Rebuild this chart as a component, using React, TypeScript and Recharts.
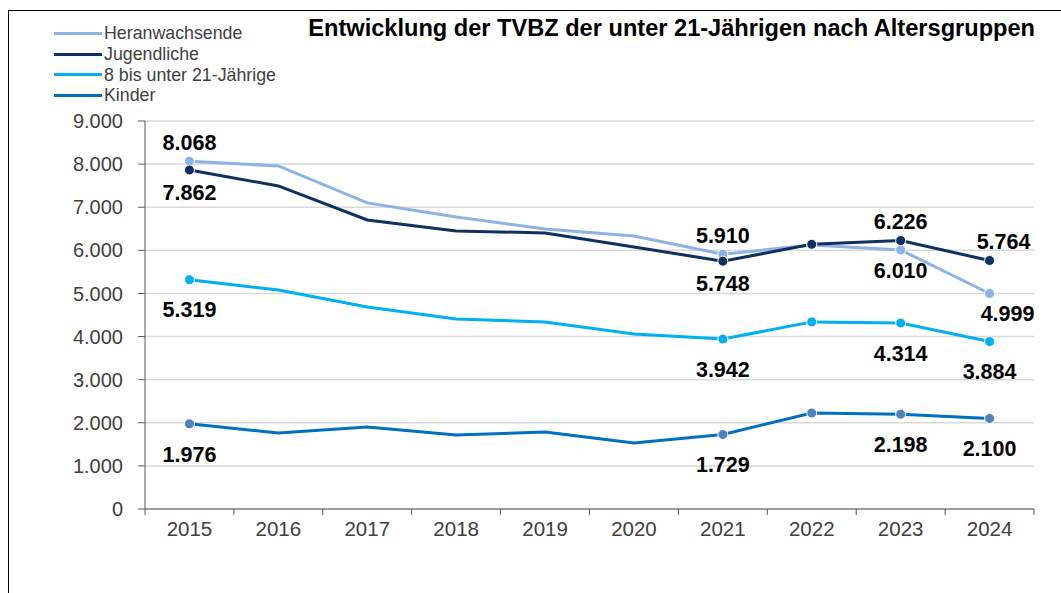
import React from 'react';
import { LineChart, Line, XAxis, YAxis, CartesianGrid } from 'recharts';

const years = ['2015', '2016', '2017', '2018', '2019', '2020', '2021', '2022', '2023', '2024'];
const heranwachsende = [8068, 7958, 7100, 6775, 6497, 6334, 5910, 6125, 6010, 4999];
const jugendliche = [7862, 7494, 6705, 6450, 6403, 6078, 5748, 6140, 6226, 5764];
const achtBis21 = [5319, 5080, 4686, 4408, 4338, 4060, 3942, 4340, 4314, 3884];
const kinder = [1976, 1763, 1902, 1717, 1786, 1531, 1729, 2227, 2198, 2100];
const yTicks = [0, 1000, 2000, 3000, 4000, 5000, 6000, 7000, 8000, 9000];

const title = 'Entwicklung der TVBZ der unter 21-Jährigen nach Altersgruppen';

// which years get a marker
const dotIndexes = [0, 6, 7, 8, 9];

// label placement per series: index -> 'up' | 'down'
const labelSpec: Record<string, Record<number, string>> = {
  her: { 0: 'up', 6: 'up', 8: 'down', 9: 'down' },
  jug: { 0: 'down', 6: 'down', 8: 'up', 9: 'up' },
  acht: { 0: 'down', 6: 'down', 8: 'down', 9: 'down' },
  kin: { 0: 'down', 6: 'down', 8: 'down', 9: 'down' },
};

const data = years.map((y, i) => ({
  year: y,
  her: heranwachsende[i],
  jug: jugendliche[i],
  acht: achtBis21[i],
  kin: kinder[i],
}));

const series = [
  { key: 'her', name: 'Heranwachsende', color: '#8DB3E2', dot: '#8DB3E2', down: 20 },
  { key: 'jug', name: 'Jugendliche', color: '#10305F', dot: '#10305F', down: 22 },
  { key: 'acht', name: '8 bis unter 21-Jährige', color: '#00B0F0', dot: '#00B0F0', down: 30 },
  { key: 'kin', name: 'Kinder', color: '#0070C0', dot: '#4F81BD', down: 30 },
];

const fmt = (v: number) => String(v).replace(/\B(?=(\d{3})+(?!\d))/g, '.');

const makeDot = (color: string) => (props: any) => {
  const { cx, cy, index } = props;
  if (!dotIndexes.includes(index)) return <g key={index} />;
  return <circle key={index} cx={cx} cy={cy} r={5} fill={color} stroke="#fff" strokeWidth={1} />;
};

const makeLabel = (key: string, down: number) => (props: any) => {
  const { x, y, index, value } = props;
  const pos = labelSpec[key][index];
  if (!pos) return null;
  const dx = index === 9 && pos === 'up' ? 14 : index === 9 && key === 'her' ? 18 : 0;
  const ty = pos === 'up' ? y - 19 : y + down;
  return (
    <text
      key={index}
      x={x + dx}
      y={ty}
      dy="0.36em"
      textAnchor="middle"
      fontSize={21.5}
      fontWeight="bold"
      fill="#000"
    >
      {fmt(value)}
    </text>
  );
};

const XTick = (props: any) => {
  const { x, y, payload, index } = props;
  const half = 44.45;
  return (
    <g>
      <line x1={x - half} y1={y} x2={x - half} y2={y + 6} stroke="#595959" />
      {index === years.length - 1 && (
        <line x1={x + half} y1={y} x2={x + half} y2={y + 6} stroke="#595959" />
      )}
      <text x={x} y={y + 20} dy="0.36em" textAnchor="middle" fontSize={20.5} fill="#404040">
        {payload.value}
      </text>
    </g>
  );
};

const LegendBox = () => (
  <div
    style={{
      position: 'absolute',
      left: 54,
      top: 23,
      fontSize: 17.8,
      color: '#404040',
    }}
  >
    {series.map((s) => (
      <div key={s.key} style={{ display: 'flex', alignItems: 'center', height: 20.8 }}>
        <div style={{ width: 48, height: 3, background: s.color, marginRight: 2 }} />
        <span>{s.name}</span>
      </div>
    ))}
  </div>
);

export default function App() {
  return (
    <div
      style={{
        position: 'absolute',
        left: 0,
        top: 0,
        width: 1061,
        height: 593,
        overflow: 'hidden',
        background: '#fff',
        fontFamily: 'Arial, "Liberation Sans", sans-serif',
      }}
    >
      <div
        style={{
          position: 'absolute',
          left: 8,
          top: 10,
          width: 1200,
          height: 800,
          border: '1px solid #000',
        }}
      />
      <LineChart
        width={1061}
        height={593}
        data={data}
        margin={{ top: 121, right: 27, left: 0, bottom: 0 }}
        style={{ position: 'absolute', left: 0, top: 0 }}
      >
        <CartesianGrid vertical={false} stroke="#D9D9D9" strokeWidth={1.5} />
        <XAxis
          dataKey="year"
          padding={{ left: 44.45, right: 44.45 }}
          axisLine={{ stroke: '#595959' }}
          tickLine={false}
          tickSize={0}
          tickMargin={0}
          interval={0}
          tick={<XTick />}
          height={84}
        />
        <YAxis
          width={145}
          domain={[0, 9000]}
          ticks={yTicks}
          interval={0}
          axisLine={{ stroke: '#595959' }}
          tickLine={{ stroke: '#595959' }}
          tickSize={7}
          tickMargin={15}
          tickFormatter={fmt}
          tick={{ fontSize: 20, fill: '#404040' }}
        />
        {[series[3], series[2], series[0], series[1]].map((s) => (
          <Line
            key={s.key}
            type="linear"
            dataKey={s.key}
            name={s.name}
            stroke={s.color}
            strokeWidth={3}
            dot={makeDot(s.dot)}
            activeDot={false}
            label={makeLabel(s.key, s.down)}
            isAnimationActive={false}
          />
        ))}
      </LineChart>
      <LegendBox />
      <div
        style={{
          position: 'absolute',
          right: 26,
          top: 15,
          fontSize: 23.6,
          fontWeight: 'bold',
          color: '#000',
          whiteSpace: 'nowrap',
        }}
      >
        {title}
      </div>
    </div>
  );
}
